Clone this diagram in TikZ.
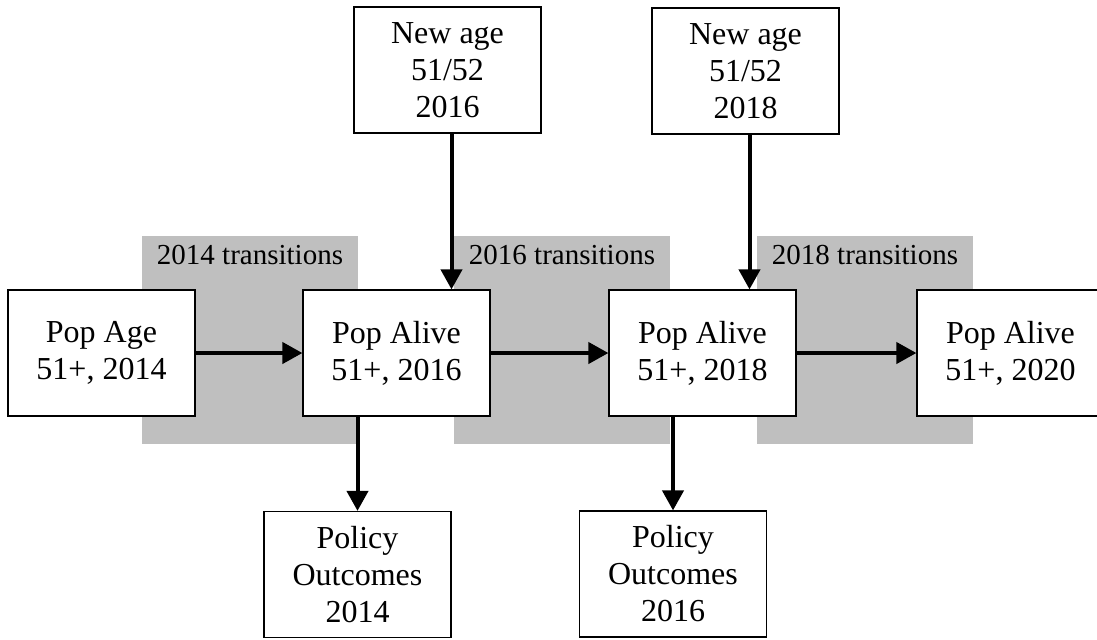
\documentclass[tikz,border=0pt]{standalone}
\usepackage{fontspec}
\setmainfont{Liberation Serif}
\usetikzlibrary{scopes,positioning,arrows.meta}
\definecolor{shade}{RGB}{191,191,191}

\begin{document}
\begin{tikzpicture}[
    x=0.5pt,y=-0.5pt,
    every node/.style={font=\fontsize{16}{18.5}\selectfont},
    box/.style={rectangle,draw=black,fill=white,line width=0.6pt,align=center,minimum width=93.5pt,minimum height=63pt,inner sep=0pt},
    trans/.style={rectangle,fill=shade,minimum width=108pt,minimum height=104pt,inner sep=0pt},
    tlabel/.style={inner sep=0pt,font=\fontsize{14.5}{17}\selectfont},
    arr/.style={-{Triangle[length=10pt,width=10.5pt]},line width=2pt},
]
\clip (0,0) rectangle (1097,639);

% shaded transition periods
\node[trans] (t14) at (250,340) {};
\node[trans] (t16) at (562,340) {};
\node[trans] (t18) at (865,340) {};
\node[tlabel,below=4.5pt of t14.north] (l14) {2014 transitions};
\node[tlabel,below=4.5pt of t16.north] (l16) {2016 transitions};
\node[tlabel,below=4.5pt of t18.north] (l18) {2018 transitions};

% population boxes
\node[box] (age14) at (101.5,353) {Pop Age\\51+, 2014};
\node[box] (alive16) at (396.5,353) {Pop Alive\\51+, 2016};
\node[box] (alive18) at (702.5,353) {Pop Alive\\51+, 2018};
\node[box] (alive20) at (1010.5,353) {Pop Alive\\51+, 2020};

% new entrants
\node[box] (new16) at (447.5,70) {New age\\51/52\\2016};
\node[box] (new18) at (745.5,71) {New age\\51/52\\2018};

% outcomes
\node[box] (pol14) at (357.5,574.5) {Policy\\Outcomes\\2014};
\node[box] (pol16) at (673,574) {Policy\\Outcomes\\2016};

{[arr]
    \draw (age14) -- (alive16);
    \draw (alive16) -- (alive18);
    \draw (alive18) -- (alive20);
    \draw ([xshift=2pt]new16.south) -- ([xshift=2pt]new16.south |- alive16.north);
    \draw ([xshift=2pt]new18.south) -- ([xshift=2pt]new18.south |- alive18.north);
    \draw (pol14.north |- alive16.south) -- (pol14);
    \draw (pol16.north |- alive18.south) -- (pol16);
}
\end{tikzpicture}
\end{document}
